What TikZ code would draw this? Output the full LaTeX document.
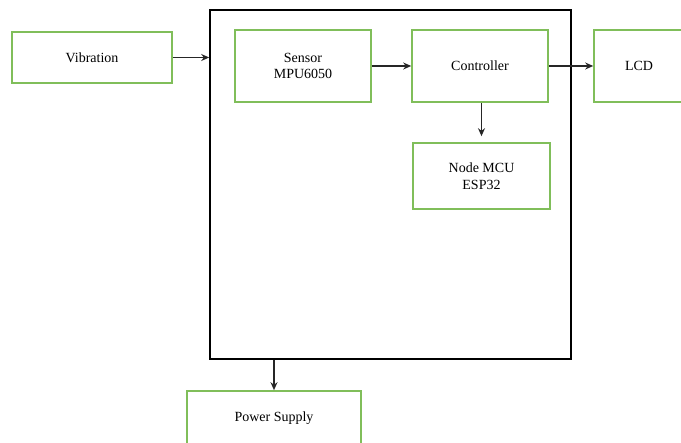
\documentclass[tikz,border=0pt]{standalone}
\usepackage{fontspec}
\setmainfont{Liberation Serif}
\usetikzlibrary{arrows.meta}
\definecolor{boxgreen}{RGB}{128,190,90}
\begin{document}
\begin{tikzpicture}[x=1pt,y=-1pt,
  gbox/.style={draw=boxgreen,line width=1.6pt,fill=white,align=center,inner sep=0pt,
    font=\fontsize{14}{16.5}\selectfont},
  arr/.style={-{Stealth[length=8pt,width=7pt]},line width=1.5pt,draw=black!85}]
\useasboundingbox (0,0) rectangle (681,443);
\clip (0,0) rectangle (681,443);
\node[draw=black,line width=1.6pt,minimum width=361pt,minimum height=349pt,inner sep=0pt] (big) at (390.5,184.5) {};
\node[gbox,minimum width=160pt,minimum height=51pt] (vib) at (92,57.5) {Vibration};
\node[gbox,minimum width=136pt,minimum height=72pt] (sensor) at (303,66) {Sensor\\MPU6050};
\node[gbox,minimum width=136pt,minimum height=72pt] (ctrl) at (480,66) {Controller};
\node[gbox,minimum width=137pt,minimum height=66pt] (mcu) at (481.5,176) {Node MCU\\ESP32};
\node[gbox,minimum width=90pt,minimum height=72pt] (lcd) at (639,66) {LCD};
\node[gbox,minimum width=174pt,minimum height=54pt] (power) at (274,418) {Power Supply};
\draw[arr] (vib.east) -- (vib.east -| big.west);
\draw[arr] (sensor.east) -- (ctrl.west);
\draw[arr] (ctrl.east) -- (lcd.west);
\draw[arr,shorten >=6pt] (ctrl.south -| mcu.north) -- (mcu.north);
\draw[arr] (power.north |- big.south) -- (power.north);
\end{tikzpicture}
\end{document}
